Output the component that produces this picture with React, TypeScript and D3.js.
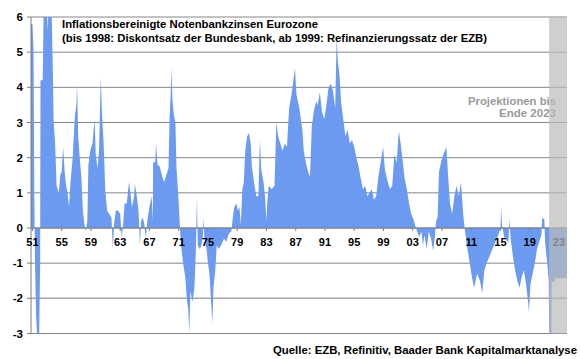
import React from "react";
import * as d3 from "d3";

// decimal year of each reading
const years: number[] = [
  1950.8, 1951.0, 1951.15, 1951.25, 1951.35, 1951.5, 1951.7, 1951.9, 1952.05, 1952.1, 1952.4, 1952.55, 1952.9, 1953.1, 1953.2, 1953.6, 1953.8, 1953.9,
  1954.1, 1954.3, 1954.6, 1954.8, 1955.0, 1955.2, 1955.4, 1955.6, 1955.8, 1956.0, 1956.2, 1956.5, 1956.8, 1957.0, 1957.1, 1957.25,
  1957.5, 1957.7, 1957.9, 1958.1, 1958.3, 1958.5, 1958.65, 1958.9, 1959.2, 1959.5, 1959.65, 1959.9, 1960.1, 1960.35, 1960.5, 1960.75,
  1960.95, 1961.2, 1961.5, 1961.8, 1962.0, 1962.15, 1962.4, 1962.7, 1963.0, 1963.2, 1963.4, 1963.6, 1963.9, 1964.2, 1964.4, 1964.6,
  1964.9, 1965.0, 1965.2, 1965.5, 1965.7, 1965.85, 1966.1, 1966.3, 1966.5, 1966.7, 1967.0, 1967.3, 1967.45, 1967.5, 1967.8, 1967.9,
  1968.1, 1968.4, 1968.7, 1969.0, 1969.3, 1969.6, 1969.75, 1969.9, 1970.0, 1970.15, 1970.35, 1970.55, 1970.7, 1970.95, 1971.15, 1971.3,
  1971.6, 1971.9, 1972.1, 1972.3, 1972.45, 1972.6, 1972.9, 1973.15, 1973.35, 1973.5, 1973.6, 1973.9, 1974.1, 1974.3, 1974.4, 1974.5,
  1974.8, 1975.0, 1975.2, 1975.4, 1975.6, 1975.75, 1976.0, 1976.2, 1976.5, 1976.9, 1977.2, 1977.5, 1977.7, 1977.9, 1978.2, 1978.4,
  1978.6, 1978.9, 1979.1, 1979.3, 1979.5, 1979.7, 1979.9, 1980.1, 1980.35, 1980.6, 1980.85, 1981.0, 1981.3, 1981.6, 1981.9, 1982.1,
  1982.3, 1982.6, 1982.8, 1983.0, 1983.1, 1983.3, 1983.7, 1984.1, 1984.35, 1984.6, 1984.9, 1985.2, 1985.5, 1985.8, 1986.1, 1986.5,
  1986.9, 1987.1, 1987.5, 1987.9, 1988.1, 1988.4, 1988.7, 1988.95, 1989.2, 1989.5, 1989.8, 1990.0, 1990.3, 1990.6, 1990.9, 1991.2,
  1991.5, 1991.8, 1992.1, 1992.4, 1992.6, 1992.75, 1993.0, 1993.2, 1993.5, 1993.8, 1994.1, 1994.4, 1994.7, 1995.0, 1995.3, 1995.6,
  1995.9, 1996.2, 1996.5, 1996.8, 1997.1, 1997.4, 1997.7, 1998.0, 1998.3, 1998.6, 1998.95, 1999.2, 1999.6, 1999.9, 2000.2, 2000.5,
  2000.8, 2001.1, 2001.35, 2001.6, 2001.9, 2002.2, 2002.5, 2002.8, 2003.1, 2003.3, 2003.6, 2003.9, 2004.2, 2004.4, 2004.6, 2004.9,
  2005.2, 2005.5, 2005.8, 2006.0, 2006.2, 2006.4, 2006.6, 2006.9, 2007.2, 2007.6, 2007.9, 2008.1, 2008.4, 2008.7, 2009.0, 2009.3,
  2009.6, 2009.9, 2010.1, 2010.4, 2010.8, 2011.1, 2011.4, 2011.8, 2012.2, 2012.5, 2012.8, 2013.1, 2013.5, 2013.9, 2014.3, 2014.7,
  2015.0, 2015.1, 2015.2, 2015.5, 2015.8, 2016.1, 2016.2, 2016.4, 2016.7, 2017.0, 2017.3, 2017.6, 2017.9, 2018.2, 2018.5, 2018.8,
  2018.9, 2019.1, 2019.4, 2019.7, 2020.0, 2020.3, 2020.6, 2020.7, 2021.0, 2021.1, 2021.4, 2021.6, 2021.7, 2021.95, 2022.0, 2022.4,
  2022.5, 2024.1,
];

// inflation-adjusted policy rate, %
const rates: number[] = [
  5.8, 5.8, 5.0, 1.0, -1.0, -2.5, -3.3, -3.3, -1.0, 4.2, 4.2, 6.5, 6.5, 5.6, 6.5, 6.5, 4.3, 3.0,
  2.4, 1.2, 1.0, 1.5, 1.6, 2.3, 1.6, 1.2, 1.0, 0.6, 1.3, 2.0, 3.2, 3.5, 4.1, 2.6,
  1.9, 1.4, 0.5, 0.1, -0.1, 0.2, 1.8, 2.2, 2.4, 3.1, 2.1, 1.7, 2.2, 4.3, 3.3, 2.3,
  1.1, 0.5, 0.4, 0.3, -0.6, 0.1, 0.5, 0.5, 0.4, -0.3, 0.1, 0.7, 0.7, 1.3, 1.0, 0.6,
  0.9, 1.25, 1.0, 0.5, -0.5, 0.2, 0.3, 0.1, -0.3, 0.2, 0.6, 0.9, 0.2, 1.85, 1.9, 2.4,
  1.8, 1.75, 1.5, 1.3, 1.5, 1.7, 3.1, 3.8, 4.55, 3.6, 3.2, 3.0, 1.7, 0.9, 0.1, -0.45,
  -1.0, -1.4, -2.0, -2.3, -3.0, -1.8, -2.1, -1.7, -0.6, 0.9, -0.5, -0.6, -0.5, -0.25, 0.3, -0.3,
  -0.6, -1.0, -1.3, -2.0, -2.7, -1.7, -1.2, -0.5, -0.6, -0.45, -0.3, -0.4, -0.25, -0.15, -0.1, 0.3,
  0.6, 0.7, 0.5, 0.6, 0.1, 1.1, 1.3, 2.2, 2.6, 2.7, 2.4, 1.75, 1.3, 0.9, 0.9, 2.5,
  1.65, 1.3, 0.9, 0.2, 0.7, 1.2, 1.1, 1.2, 3.0, 2.6, 2.4, 2.2, 2.4, 2.3, 3.4, 3.9,
  4.55, 3.8, 3.4, 2.8, 2.2, 1.85, 1.6, 1.45, 2.9, 3.35, 3.6, 3.5, 3.85, 3.3, 3.1, 3.5,
  4.0, 4.1, 3.9, 3.4, 5.4, 4.8, 4.3, 3.6, 3.1, 2.6, 2.8, 2.4, 2.5, 2.3, 2.0, 1.75,
  1.4, 1.1, 1.2, 0.9, 1.0, 1.1, 0.8, 0.9, 1.45, 1.85, 2.3, 1.65, 1.3, 1.1, 1.2, 2.1,
  1.85, 2.75, 2.4, 1.95, 1.4, 1.1, 0.7, 0.4, 0.25, 0.1, -0.1, -0.25, -0.1, -0.5, -0.2, -0.6,
  -0.1, -0.3, -0.65, -0.3, 0.2, 0.3, 1.6, 1.9, 2.1, 2.3, 1.3, 0.7, 0.4, 0.9, 1.2, 0.9,
  1.3, 0.4, 0.0, -0.5, -1.0, -1.4, -1.7, -1.3, -1.5, -1.85, -1.2, -1.0, -0.8, -0.6, -0.4, -0.2,
  0.0, 0.6, 0.1, -0.25, -0.35, -0.4, 0.27, -0.3, -0.8, -1.2, -1.5, -1.7, -1.4, -1.2, -1.6, -2.15,
  -2.4, -1.6, -1.3, -1.0, -0.6, -0.4, -0.2, 0.27, 0.27, -0.4, -1.0, -1.5, -4.0, -4.0, -1.5, -1.55,
  -1.43, -1.43,
];

const yTicks: number[] = [6, 5, 4, 3, 2, 1, 0, -1, -2, -3];
const xTickYears: number[] = [1951, 1955, 1959, 1963, 1967, 1971, 1975, 1979, 1983, 1987, 1991, 1995, 1999, 2003, 2007, 2011, 2015, 2019, 2023];
const projectionStart = 2021.65;

const titleLines: string[] = [
  "Inflationsbereinigte Notenbankzinsen Eurozone",
  "(bis 1998: Diskontsatz der Bundesbank, ab 1999: Refinanzierungssatz der EZB)",
];
const projectionNote: string[] = ["Projektionen bis", "Ende 2023"];
const sourceText = "Quelle: EZB, Refinitiv, Baader Bank Kapitalmarktanalyse";

export default function App() {
  const W = 580, H = 359;
  const left = 31, right = 567, top = 17, bottom = 333.5;
  const x = d3.scaleLinear().domain([1950.8, 2024.1]).range([left, right]);
  const y = d3.scaleLinear().domain([-3, 6]).range([bottom, top]);
  const data = years.map((t, i) => ({ t, v: rates[i] }));
  const area = d3
    .area<{ t: number; v: number }>()
    .x((d) => x(d.t))
    .y0(y(0))
    .y1((d) => y(d.v))
    .curve(d3.curveLinear);
  const font = "'Liberation Sans', Arial, sans-serif";
  const titleWidths = [256, 425];
  const noteWidths = [88, 57];
  return (
    <svg
      width={W}
      height={H}
      style={{ position: "absolute", left: 0, top: 0, background: "#fff" }}
      fontFamily={font}
    >
      <defs>
        <clipPath id="plotclip">
          <rect x={left} y={top} width={right - left} height={bottom - top} />
        </clipPath>
      </defs>
      {yTicks.map((v) => (
        <line key={"g" + v} x1={left} x2={right} y1={y(v)} y2={y(v)} stroke={v === -2 ? "#a6a6a6" : "#868686"} strokeWidth={v === -2 ? 1.5 : 1} />
      ))}
      <path d={area(data) || ""} fill="#6b9af0" clipPath="url(#plotclip)" />
      <line x1={left} x2={right} y1={y(0)} y2={y(0)} stroke="#7f7f7f" strokeWidth={1} />
      {xTickYears.map((yr) => (
        <line key={"xt" + yr} x1={x(yr)} x2={x(yr)} y1={y(0)} y2={y(0) + 3} stroke="#7f7f7f" />
      ))}
      <line x1={left} x2={left} y1={top} y2={bottom} stroke="#7f7f7f" />
      {yTicks.map((v) => (
        <line key={"yt" + v} x1={left - 4} x2={left} y1={y(v)} y2={y(v)} stroke="#7f7f7f" />
      ))}
      {yTicks.map((v) => (
        <text key={"yl" + v} x={23} y={y(v) + 4} textAnchor="end" fontSize={11.5} fontWeight="bold" fill="#000">
          {v}
        </text>
      ))}
      {xTickYears.map((yr) => (
        <text key={"xl" + yr} x={x(yr)} y={246} textAnchor="middle" fontSize={11} fontWeight="bold" fill="#000">
          {String(yr % 100).padStart(2, "0")}
        </text>
      ))}
      {titleLines.map((s, i) => (
        <text key={"t" + i} x={62} y={28 + i * 14} fontSize={11.2} fontWeight="bold" fill="#000" textLength={titleWidths[i]} lengthAdjust="spacingAndGlyphs">
          {s}
        </text>
      ))}
      {projectionNote.map((s, i) => (
        <text key={"p" + i} x={556} y={105 + i * 12} textAnchor="end" fontSize={11} fontWeight="bold" fill="#9a9a9a" textLength={noteWidths[i]} lengthAdjust="spacingAndGlyphs">
          {s}
        </text>
      ))}
      <rect x={x(projectionStart)} y={top} width={right - x(projectionStart)} height={bottom - top} fill="#bbbbbb" opacity={0.7} />
      <text x={577} y={354} textAnchor="end" fontSize={11} fontWeight="bold" fill="#000" textLength={304} lengthAdjust="spacingAndGlyphs">
        {sourceText}
      </text>
    </svg>
  );
}
